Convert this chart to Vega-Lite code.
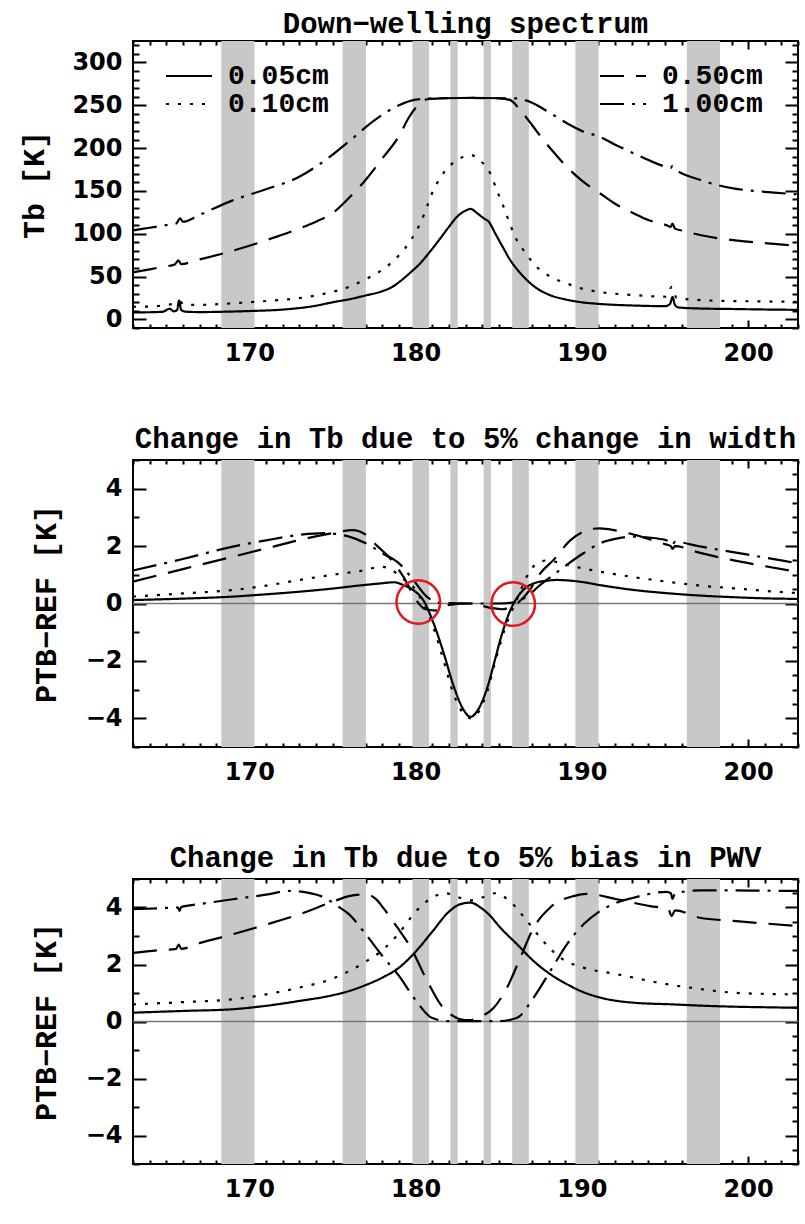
{
  "$schema": "https://vega.github.io/schema/vega-lite/v6.json",
  "background": "white",
  "padding": {"left": 18, "top": 9, "right": 5, "bottom": 5},
  "config": {
    "view": {"stroke": "black", "strokeWidth": 2},
    "axis": {"domain": false, "grid": false, "tickColor": "black", "tickWidth": 2, "labelFont": "DejaVu Sans", "labelFontWeight": "bold", "labelFontSize": 24, "labelColor": "black", "labelOverlap": false, "labelFlush": false, "titleFont": "Liberation Mono", "titleFontWeight": "bold", "titleFontSize": 30, "titleColor": "black"},
    "title": {"font": "Liberation Mono", "fontSize": 29, "fontWeight": "bold", "color": "black", "offset": -6, "anchor": "middle"}
  },
  "datasets": {
    "bands": [
      {"f1": 168.31, "f2": 170.31}, {"f1": 175.61, "f2": 177.01}, {"f1": 179.81, "f2": 180.81}, {"f1": 182.09, "f2": 182.53},
      {"f1": 184.09, "f2": 184.53}, {"f1": 185.81, "f2": 186.81}, {"f1": 189.61, "f2": 191.01}, {"f1": 196.31, "f2": 198.31}
    ],
    "circles": [{"f": 180.16, "v": 0.05}, {"f": 185.87, "v": -0.02}],
    "curves": [
      {"p":"spec","s":"0.05cm","f":163,"v":8.3},{"p":"spec","s":"0.05cm","f":164,"v":8.4},{"p":"spec","s":"0.05cm","f":164.8,"v":9},{"p":"spec","s":"0.05cm","f":165.2,"v":12.5},{"p":"spec","s":"0.05cm","f":165.45,"v":9.5},{"p":"spec","s":"0.05cm","f":165.65,"v":11},{"p":"spec","s":"0.05cm","f":165.77,"v":22},{"p":"spec","s":"0.05cm","f":165.9,"v":11},{"p":"spec","s":"0.05cm","f":166.2,"v":9},{"p":"spec","s":"0.05cm","f":167,"v":8.6},{"p":"spec","s":"0.05cm","f":168.5,"v":9},{"p":"spec","s":"0.05cm","f":170,"v":9.8},{"p":"spec","s":"0.05cm","f":172,"v":11.5},{"p":"spec","s":"0.05cm","f":174,"v":16},{"p":"spec","s":"0.05cm","f":175,"v":20},{"p":"spec","s":"0.05cm","f":176,"v":23.5},{"p":"spec","s":"0.05cm","f":177,"v":28},{"p":"spec","s":"0.05cm","f":178,"v":33},{"p":"spec","s":"0.05cm","f":178.6,"v":38},{"p":"spec","s":"0.05cm","f":179.1,"v":45},{"p":"spec","s":"0.05cm","f":179.7,"v":55},{"p":"spec","s":"0.05cm","f":180.3,"v":66},{"p":"spec","s":"0.05cm","f":180.9,"v":80},{"p":"spec","s":"0.05cm","f":181.5,"v":95},{"p":"spec","s":"0.05cm","f":182,"v":108},{"p":"spec","s":"0.05cm","f":182.5,"v":120},{"p":"spec","s":"0.05cm","f":183,"v":127},{"p":"spec","s":"0.05cm","f":183.3,"v":129},{"p":"spec","s":"0.05cm","f":183.7,"v":124},{"p":"spec","s":"0.05cm","f":184.1,"v":118},{"p":"spec","s":"0.05cm","f":184.4,"v":114},{"p":"spec","s":"0.05cm","f":184.8,"v":100},{"p":"spec","s":"0.05cm","f":185.2,"v":86},{"p":"spec","s":"0.05cm","f":185.7,"v":69},{"p":"spec","s":"0.05cm","f":186.3,"v":54},{"p":"spec","s":"0.05cm","f":187.1,"v":39},{"p":"spec","s":"0.05cm","f":188,"v":29},{"p":"spec","s":"0.05cm","f":189.1,"v":23},{"p":"spec","s":"0.05cm","f":190,"v":20},{"p":"spec","s":"0.05cm","f":191.1,"v":18},{"p":"spec","s":"0.05cm","f":193,"v":16.3},{"p":"spec","s":"0.05cm","f":195,"v":15.5},{"p":"spec","s":"0.05cm","f":195.3,"v":18},{"p":"spec","s":"0.05cm","f":195.45,"v":26},{"p":"spec","s":"0.05cm","f":195.6,"v":17},{"p":"spec","s":"0.05cm","f":195.8,"v":14},{"p":"spec","s":"0.05cm","f":197,"v":12.8},{"p":"spec","s":"0.05cm","f":199,"v":12.2},{"p":"spec","s":"0.05cm","f":201,"v":11.6},{"p":"spec","s":"0.05cm","f":203,"v":11.2},
      {"p":"spec","s":"0.10cm","f":163,"v":14.8},{"p":"spec","s":"0.10cm","f":164,"v":15},{"p":"spec","s":"0.10cm","f":165,"v":17},{"p":"spec","s":"0.10cm","f":165.5,"v":18.5},{"p":"spec","s":"0.10cm","f":165.8,"v":21},{"p":"spec","s":"0.10cm","f":166.1,"v":17},{"p":"spec","s":"0.10cm","f":167,"v":17},{"p":"spec","s":"0.10cm","f":169,"v":18.8},{"p":"spec","s":"0.10cm","f":171,"v":21.5},{"p":"spec","s":"0.10cm","f":172.9,"v":24.6},{"p":"spec","s":"0.10cm","f":174.5,"v":30},{"p":"spec","s":"0.10cm","f":176,"v":38},{"p":"spec","s":"0.10cm","f":177,"v":47},{"p":"spec","s":"0.10cm","f":178,"v":58},{"p":"spec","s":"0.10cm","f":179,"v":75},{"p":"spec","s":"0.10cm","f":179.7,"v":92},{"p":"spec","s":"0.10cm","f":180.3,"v":113},{"p":"spec","s":"0.10cm","f":181.1,"v":152},{"p":"spec","s":"0.10cm","f":181.8,"v":174},{"p":"spec","s":"0.10cm","f":182.5,"v":186},{"p":"spec","s":"0.10cm","f":183.3,"v":192},{"p":"spec","s":"0.10cm","f":183.9,"v":185},{"p":"spec","s":"0.10cm","f":184.5,"v":170},{"p":"spec","s":"0.10cm","f":184.9,"v":150},{"p":"spec","s":"0.10cm","f":185.3,"v":131},{"p":"spec","s":"0.10cm","f":185.7,"v":110},{"p":"spec","s":"0.10cm","f":186.1,"v":92},{"p":"spec","s":"0.10cm","f":186.6,"v":78},{"p":"spec","s":"0.10cm","f":187.1,"v":65},{"p":"spec","s":"0.10cm","f":188.1,"v":50},{"p":"spec","s":"0.10cm","f":189.1,"v":42},{"p":"spec","s":"0.10cm","f":190,"v":36},{"p":"spec","s":"0.10cm","f":191.1,"v":32},{"p":"spec","s":"0.10cm","f":193.1,"v":28.5},{"p":"spec","s":"0.10cm","f":195.1,"v":26.5},{"p":"spec","s":"0.10cm","f":195.4,"v":38},{"p":"spec","s":"0.10cm","f":195.7,"v":25},{"p":"spec","s":"0.10cm","f":197.1,"v":22.6},{"p":"spec","s":"0.10cm","f":199,"v":21.5},{"p":"spec","s":"0.10cm","f":201,"v":21},{"p":"spec","s":"0.10cm","f":203,"v":20.5},
      {"p":"spec","s":"0.50cm","f":163,"v":55},{"p":"spec","s":"0.50cm","f":164,"v":58.5},{"p":"spec","s":"0.50cm","f":164.8,"v":61.5},{"p":"spec","s":"0.50cm","f":165.5,"v":64},{"p":"spec","s":"0.50cm","f":165.73,"v":69},{"p":"spec","s":"0.50cm","f":165.9,"v":64.5},{"p":"spec","s":"0.50cm","f":166.8,"v":69},{"p":"spec","s":"0.50cm","f":168.4,"v":77},{"p":"spec","s":"0.50cm","f":170,"v":86},{"p":"spec","s":"0.50cm","f":171.4,"v":95},{"p":"spec","s":"0.50cm","f":173,"v":106},{"p":"spec","s":"0.50cm","f":174,"v":114},{"p":"spec","s":"0.50cm","f":175,"v":124},{"p":"spec","s":"0.50cm","f":176,"v":142},{"p":"spec","s":"0.50cm","f":177,"v":163},{"p":"spec","s":"0.50cm","f":178,"v":188},{"p":"spec","s":"0.50cm","f":179,"v":214},{"p":"spec","s":"0.50cm","f":179.6,"v":236},{"p":"spec","s":"0.50cm","f":180.2,"v":251},{"p":"spec","s":"0.50cm","f":180.7,"v":257},{"p":"spec","s":"0.50cm","f":181.5,"v":258},{"p":"spec","s":"0.50cm","f":183.3,"v":258.5},{"p":"spec","s":"0.50cm","f":185,"v":258},{"p":"spec","s":"0.50cm","f":185.7,"v":256},{"p":"spec","s":"0.50cm","f":186.3,"v":244},{"p":"spec","s":"0.50cm","f":187,"v":227},{"p":"spec","s":"0.50cm","f":187.7,"v":209},{"p":"spec","s":"0.50cm","f":188.4,"v":193},{"p":"spec","s":"0.50cm","f":189.1,"v":178},{"p":"spec","s":"0.50cm","f":190,"v":162},{"p":"spec","s":"0.50cm","f":191.1,"v":147},{"p":"spec","s":"0.50cm","f":192,"v":135},{"p":"spec","s":"0.50cm","f":193.1,"v":124},{"p":"spec","s":"0.50cm","f":194,"v":116},{"p":"spec","s":"0.50cm","f":195.1,"v":110},{"p":"spec","s":"0.50cm","f":195.35,"v":108},{"p":"spec","s":"0.50cm","f":195.45,"v":112},{"p":"spec","s":"0.50cm","f":195.6,"v":106},{"p":"spec","s":"0.50cm","f":196.2,"v":103},{"p":"spec","s":"0.50cm","f":197.1,"v":98.5},{"p":"spec","s":"0.50cm","f":199.1,"v":92.6},{"p":"spec","s":"0.50cm","f":201,"v":89},{"p":"spec","s":"0.50cm","f":203,"v":86},
      {"p":"spec","s":"1.00cm","f":163,"v":104},{"p":"spec","s":"1.00cm","f":164,"v":107},{"p":"spec","s":"1.00cm","f":165,"v":110},{"p":"spec","s":"1.00cm","f":165.6,"v":112},{"p":"spec","s":"1.00cm","f":165.83,"v":118},{"p":"spec","s":"1.00cm","f":166,"v":114},{"p":"spec","s":"1.00cm","f":167,"v":122},{"p":"spec","s":"1.00cm","f":169,"v":139},{"p":"spec","s":"1.00cm","f":171,"v":152},{"p":"spec","s":"1.00cm","f":173,"v":166.5},{"p":"spec","s":"1.00cm","f":174.5,"v":185},{"p":"spec","s":"1.00cm","f":176,"v":208},{"p":"spec","s":"1.00cm","f":177.5,"v":232},{"p":"spec","s":"1.00cm","f":179,"v":250},{"p":"spec","s":"1.00cm","f":180,"v":256.5},{"p":"spec","s":"1.00cm","f":181,"v":258},{"p":"spec","s":"1.00cm","f":183.3,"v":258.5},{"p":"spec","s":"1.00cm","f":186,"v":258},{"p":"spec","s":"1.00cm","f":187,"v":253},{"p":"spec","s":"1.00cm","f":188,"v":242},{"p":"spec","s":"1.00cm","f":189.1,"v":229},{"p":"spec","s":"1.00cm","f":190,"v":220},{"p":"spec","s":"1.00cm","f":191.1,"v":213},{"p":"spec","s":"1.00cm","f":192,"v":204},{"p":"spec","s":"1.00cm","f":193.1,"v":194},{"p":"spec","s":"1.00cm","f":194,"v":186},{"p":"spec","s":"1.00cm","f":195.1,"v":178},{"p":"spec","s":"1.00cm","f":195.35,"v":177},{"p":"spec","s":"1.00cm","f":195.45,"v":179},{"p":"spec","s":"1.00cm","f":195.6,"v":176},{"p":"spec","s":"1.00cm","f":197.1,"v":163},{"p":"spec","s":"1.00cm","f":199.1,"v":153},{"p":"spec","s":"1.00cm","f":201,"v":149},{"p":"spec","s":"1.00cm","f":203,"v":146},

      {"p":"width","s":"0.05cm","f":163,"v":0.12},{"p":"width","s":"0.05cm","f":166,"v":0.17},{"p":"width","s":"0.05cm","f":169,"v":0.24},{"p":"width","s":"0.05cm","f":171,"v":0.32},{"p":"width","s":"0.05cm","f":173,"v":0.41},{"p":"width","s":"0.05cm","f":175,"v":0.52},{"p":"width","s":"0.05cm","f":176.5,"v":0.62},{"p":"width","s":"0.05cm","f":177.9,"v":0.7},{"p":"width","s":"0.05cm","f":178.7,"v":0.74},{"p":"width","s":"0.05cm","f":179.3,"v":0.63},{"p":"width","s":"0.05cm","f":179.9,"v":0.45},{"p":"width","s":"0.05cm","f":180.5,"v":0.08},{"p":"width","s":"0.05cm","f":181.1,"v":-0.72},{"p":"width","s":"0.05cm","f":181.7,"v":-1.75},{"p":"width","s":"0.05cm","f":182.3,"v":-2.9},{"p":"width","s":"0.05cm","f":182.9,"v":-3.72},{"p":"width","s":"0.05cm","f":183.3,"v":-3.95},{"p":"width","s":"0.05cm","f":183.7,"v":-3.75},{"p":"width","s":"0.05cm","f":184.3,"v":-2.95},{"p":"width","s":"0.05cm","f":184.8,"v":-1.9},{"p":"width","s":"0.05cm","f":185.1,"v":-1.25},{"p":"width","s":"0.05cm","f":185.7,"v":-0.23},{"p":"width","s":"0.05cm","f":186.3,"v":0.36},{"p":"width","s":"0.05cm","f":187.1,"v":0.7},{"p":"width","s":"0.05cm","f":188,"v":0.8},{"p":"width","s":"0.05cm","f":188.5,"v":0.82},{"p":"width","s":"0.05cm","f":190,"v":0.75},{"p":"width","s":"0.05cm","f":191.1,"v":0.64},{"p":"width","s":"0.05cm","f":193,"v":0.48},{"p":"width","s":"0.05cm","f":195.1,"v":0.36},{"p":"width","s":"0.05cm","f":197,"v":0.28},{"p":"width","s":"0.05cm","f":199.1,"v":0.22},{"p":"width","s":"0.05cm","f":201,"v":0.18},{"p":"width","s":"0.05cm","f":203,"v":0.16},
      {"p":"width","s":"0.10cm","f":163,"v":0.24},{"p":"width","s":"0.10cm","f":166,"v":0.35},{"p":"width","s":"0.10cm","f":169,"v":0.47},{"p":"width","s":"0.10cm","f":171,"v":0.62},{"p":"width","s":"0.10cm","f":173,"v":0.82},{"p":"width","s":"0.10cm","f":175,"v":1.0},{"p":"width","s":"0.10cm","f":177,"v":1.17},{"p":"width","s":"0.10cm","f":177.9,"v":1.28},{"p":"width","s":"0.10cm","f":178.5,"v":1.2},{"p":"width","s":"0.10cm","f":179.06,"v":0.93},{"p":"width","s":"0.10cm","f":179.86,"v":0.58},{"p":"width","s":"0.10cm","f":180.46,"v":0.0},{"p":"width","s":"0.10cm","f":181.06,"v":-0.81},{"p":"width","s":"0.10cm","f":181.67,"v":-1.97},{"p":"width","s":"0.10cm","f":182.27,"v":-3.13},{"p":"width","s":"0.10cm","f":182.87,"v":-3.83},{"p":"width","s":"0.10cm","f":183.3,"v":-4.0},{"p":"width","s":"0.10cm","f":183.7,"v":-3.85},{"p":"width","s":"0.10cm","f":184.27,"v":-3.13},{"p":"width","s":"0.10cm","f":184.87,"v":-1.85},{"p":"width","s":"0.10cm","f":185.48,"v":-0.69},{"p":"width","s":"0.10cm","f":186.08,"v":0.12},{"p":"width","s":"0.10cm","f":186.68,"v":0.93},{"p":"width","s":"0.10cm","f":187.3,"v":1.4},{"p":"width","s":"0.10cm","f":187.9,"v":1.5},{"p":"width","s":"0.10cm","f":189.1,"v":1.34},{"p":"width","s":"0.10cm","f":191.1,"v":1.11},{"p":"width","s":"0.10cm","f":193,"v":0.93},{"p":"width","s":"0.10cm","f":195.1,"v":0.76},{"p":"width","s":"0.10cm","f":197,"v":0.63},{"p":"width","s":"0.10cm","f":199.1,"v":0.53},{"p":"width","s":"0.10cm","f":201,"v":0.44},{"p":"width","s":"0.10cm","f":203,"v":0.36},
      {"p":"width","s":"0.50cm","f":163,"v":0.76},{"p":"width","s":"0.50cm","f":166,"v":1.2},{"p":"width","s":"0.50cm","f":169,"v":1.63},{"p":"width","s":"0.50cm","f":171,"v":1.92},{"p":"width","s":"0.50cm","f":173,"v":2.21},{"p":"width","s":"0.50cm","f":175,"v":2.45},{"p":"width","s":"0.50cm","f":176.2,"v":2.56},{"p":"width","s":"0.50cm","f":177,"v":2.4},{"p":"width","s":"0.50cm","f":177.7,"v":2.0},{"p":"width","s":"0.50cm","f":178.5,"v":1.55},{"p":"width","s":"0.50cm","f":179.3,"v":0.9},{"p":"width","s":"0.50cm","f":180,"v":0.15},{"p":"width","s":"0.50cm","f":180.6,"v":-0.2},{"p":"width","s":"0.50cm","f":181.3,"v":-0.25},{"p":"width","s":"0.50cm","f":182,"v":-0.05},{"p":"width","s":"0.50cm","f":183.3,"v":0},{"p":"width","s":"0.50cm","f":184.5,"v":-0.15},{"p":"width","s":"0.50cm","f":185.2,"v":-0.2},{"p":"width","s":"0.50cm","f":185.7,"v":-0.12},{"p":"width","s":"0.50cm","f":186.2,"v":0.05},{"p":"width","s":"0.50cm","f":186.9,"v":0.5},{"p":"width","s":"0.50cm","f":187.5,"v":1.05},{"p":"width","s":"0.50cm","f":188.3,"v":1.52},{"p":"width","s":"0.50cm","f":189.3,"v":2.2},{"p":"width","s":"0.50cm","f":190,"v":2.48},{"p":"width","s":"0.50cm","f":190.6,"v":2.6},{"p":"width","s":"0.50cm","f":191.1,"v":2.62},{"p":"width","s":"0.50cm","f":192,"v":2.55},{"p":"width","s":"0.50cm","f":193,"v":2.42},{"p":"width","s":"0.50cm","f":194,"v":2.25},{"p":"width","s":"0.50cm","f":195.1,"v":2.05},{"p":"width","s":"0.50cm","f":195.35,"v":2.0},{"p":"width","s":"0.50cm","f":195.45,"v":1.9},{"p":"width","s":"0.50cm","f":195.6,"v":2.0},{"p":"width","s":"0.50cm","f":197,"v":1.78},{"p":"width","s":"0.50cm","f":199,"v":1.52},{"p":"width","s":"0.50cm","f":201,"v":1.3},{"p":"width","s":"0.50cm","f":203,"v":1.1},
      {"p":"width","s":"1.00cm","f":163,"v":1.15},{"p":"width","s":"1.00cm","f":166,"v":1.55},{"p":"width","s":"1.00cm","f":169,"v":1.98},{"p":"width","s":"1.00cm","f":171,"v":2.2},{"p":"width","s":"1.00cm","f":173,"v":2.39},{"p":"width","s":"1.00cm","f":174.5,"v":2.45},{"p":"width","s":"1.00cm","f":176,"v":2.33},{"p":"width","s":"1.00cm","f":177,"v":2.1},{"p":"width","s":"1.00cm","f":178,"v":1.75},{"p":"width","s":"1.00cm","f":179,"v":1.4},{"p":"width","s":"1.00cm","f":179.86,"v":0.82},{"p":"width","s":"1.00cm","f":180.67,"v":0.24},{"p":"width","s":"1.00cm","f":181.5,"v":0.02},{"p":"width","s":"1.00cm","f":183.3,"v":0},{"p":"width","s":"1.00cm","f":185,"v":0},{"p":"width","s":"1.00cm","f":186,"v":0.05},{"p":"width","s":"1.00cm","f":186.68,"v":0.24},{"p":"width","s":"1.00cm","f":187.48,"v":0.64},{"p":"width","s":"1.00cm","f":188.68,"v":1.17},{"p":"width","s":"1.00cm","f":190.09,"v":1.75},{"p":"width","s":"1.00cm","f":191.1,"v":2.1},{"p":"width","s":"1.00cm","f":192,"v":2.25},{"p":"width","s":"1.00cm","f":193.1,"v":2.33},{"p":"width","s":"1.00cm","f":194,"v":2.3},{"p":"width","s":"1.00cm","f":195.1,"v":2.2},{"p":"width","s":"1.00cm","f":195.35,"v":2.15},{"p":"width","s":"1.00cm","f":195.45,"v":2.05},{"p":"width","s":"1.00cm","f":195.6,"v":2.15},{"p":"width","s":"1.00cm","f":197,"v":2.0},{"p":"width","s":"1.00cm","f":199,"v":1.8},{"p":"width","s":"1.00cm","f":201,"v":1.6},{"p":"width","s":"1.00cm","f":203,"v":1.4},

      {"p":"pwv","s":"0.05cm","f":163,"v":0.31},{"p":"pwv","s":"0.05cm","f":166,"v":0.37},{"p":"pwv","s":"0.05cm","f":169,"v":0.43},{"p":"pwv","s":"0.05cm","f":171,"v":0.55},{"p":"pwv","s":"0.05cm","f":173,"v":0.72},{"p":"pwv","s":"0.05cm","f":175,"v":0.92},{"p":"pwv","s":"0.05cm","f":176,"v":1.07},{"p":"pwv","s":"0.05cm","f":177,"v":1.28},{"p":"pwv","s":"0.05cm","f":178,"v":1.54},{"p":"pwv","s":"0.05cm","f":179,"v":1.89},{"p":"pwv","s":"0.05cm","f":180,"v":2.45},{"p":"pwv","s":"0.05cm","f":181,"v":3.15},{"p":"pwv","s":"0.05cm","f":182,"v":3.85},{"p":"pwv","s":"0.05cm","f":182.7,"v":4.12},{"p":"pwv","s":"0.05cm","f":183.3,"v":4.17},{"p":"pwv","s":"0.05cm","f":183.9,"v":4.0},{"p":"pwv","s":"0.05cm","f":184.4,"v":3.76},{"p":"pwv","s":"0.05cm","f":185.1,"v":3.29},{"p":"pwv","s":"0.05cm","f":186.1,"v":2.71},{"p":"pwv","s":"0.05cm","f":187.1,"v":2.12},{"p":"pwv","s":"0.05cm","f":188.1,"v":1.66},{"p":"pwv","s":"0.05cm","f":189.1,"v":1.31},{"p":"pwv","s":"0.05cm","f":190,"v":1.05},{"p":"pwv","s":"0.05cm","f":191.1,"v":0.84},{"p":"pwv","s":"0.05cm","f":193.1,"v":0.66},{"p":"pwv","s":"0.05cm","f":195.5,"v":0.6},{"p":"pwv","s":"0.05cm","f":197,"v":0.56},{"p":"pwv","s":"0.05cm","f":199.1,"v":0.52},{"p":"pwv","s":"0.05cm","f":201,"v":0.5},{"p":"pwv","s":"0.05cm","f":203,"v":0.48},
      {"p":"pwv","s":"0.10cm","f":163,"v":0.6},{"p":"pwv","s":"0.10cm","f":166,"v":0.68},{"p":"pwv","s":"0.10cm","f":169,"v":0.78},{"p":"pwv","s":"0.10cm","f":171,"v":0.95},{"p":"pwv","s":"0.10cm","f":173,"v":1.19},{"p":"pwv","s":"0.10cm","f":175,"v":1.5},{"p":"pwv","s":"0.10cm","f":176,"v":1.77},{"p":"pwv","s":"0.10cm","f":177,"v":2.1},{"p":"pwv","s":"0.10cm","f":178,"v":2.5},{"p":"pwv","s":"0.10cm","f":179,"v":3.1},{"p":"pwv","s":"0.10cm","f":180,"v":3.85},{"p":"pwv","s":"0.10cm","f":181,"v":4.35},{"p":"pwv","s":"0.10cm","f":181.8,"v":4.5},{"p":"pwv","s":"0.10cm","f":182.6,"v":4.35},{"p":"pwv","s":"0.10cm","f":183.3,"v":4.25},{"p":"pwv","s":"0.10cm","f":184,"v":4.35},{"p":"pwv","s":"0.10cm","f":184.8,"v":4.5},{"p":"pwv","s":"0.10cm","f":185.6,"v":4.25},{"p":"pwv","s":"0.10cm","f":186.7,"v":3.53},{"p":"pwv","s":"0.10cm","f":187.5,"v":2.94},{"p":"pwv","s":"0.10cm","f":188.7,"v":2.24},{"p":"pwv","s":"0.10cm","f":190.1,"v":1.89},{"p":"pwv","s":"0.10cm","f":192.1,"v":1.66},{"p":"pwv","s":"0.10cm","f":195.1,"v":1.31},{"p":"pwv","s":"0.10cm","f":197,"v":1.15},{"p":"pwv","s":"0.10cm","f":199.1,"v":1.01},{"p":"pwv","s":"0.10cm","f":201,"v":0.97},{"p":"pwv","s":"0.10cm","f":203,"v":0.95},
      {"p":"pwv","s":"0.50cm","f":163,"v":2.41},{"p":"pwv","s":"0.50cm","f":164.5,"v":2.5},{"p":"pwv","s":"0.50cm","f":165.6,"v":2.55},{"p":"pwv","s":"0.50cm","f":165.75,"v":2.7},{"p":"pwv","s":"0.50cm","f":165.9,"v":2.55},{"p":"pwv","s":"0.50cm","f":167,"v":2.75},{"p":"pwv","s":"0.50cm","f":169,"v":3.06},{"p":"pwv","s":"0.50cm","f":171,"v":3.4},{"p":"pwv","s":"0.50cm","f":173,"v":3.76},{"p":"pwv","s":"0.50cm","f":175,"v":4.2},{"p":"pwv","s":"0.50cm","f":176,"v":4.4},{"p":"pwv","s":"0.50cm","f":177,"v":4.46},{"p":"pwv","s":"0.50cm","f":177.6,"v":4.3},{"p":"pwv","s":"0.50cm","f":178.1,"v":3.95},{"p":"pwv","s":"0.50cm","f":178.9,"v":3.3},{"p":"pwv","s":"0.50cm","f":179.7,"v":2.6},{"p":"pwv","s":"0.50cm","f":180.7,"v":1.42},{"p":"pwv","s":"0.50cm","f":181.5,"v":0.6},{"p":"pwv","s":"0.50cm","f":182.1,"v":0.25},{"p":"pwv","s":"0.50cm","f":182.7,"v":0.08},{"p":"pwv","s":"0.50cm","f":183.3,"v":0.05},{"p":"pwv","s":"0.50cm","f":183.7,"v":0.13},{"p":"pwv","s":"0.50cm","f":184.7,"v":0.48},{"p":"pwv","s":"0.50cm","f":185.5,"v":1.19},{"p":"pwv","s":"0.50cm","f":186.3,"v":2.24},{"p":"pwv","s":"0.50cm","f":187.1,"v":3.29},{"p":"pwv","s":"0.50cm","f":188.1,"v":4.0},{"p":"pwv","s":"0.50cm","f":189.5,"v":4.4},{"p":"pwv","s":"0.50cm","f":190.3,"v":4.48},{"p":"pwv","s":"0.50cm","f":192.1,"v":4.29},{"p":"pwv","s":"0.50cm","f":194.1,"v":4.05},{"p":"pwv","s":"0.50cm","f":195.2,"v":3.95},{"p":"pwv","s":"0.50cm","f":195.4,"v":3.7},{"p":"pwv","s":"0.50cm","f":195.6,"v":3.9},{"p":"pwv","s":"0.50cm","f":197.1,"v":3.64},{"p":"pwv","s":"0.50cm","f":199.1,"v":3.53},{"p":"pwv","s":"0.50cm","f":201,"v":3.44},{"p":"pwv","s":"0.50cm","f":203,"v":3.35},
      {"p":"pwv","s":"1.00cm","f":163,"v":3.94},{"p":"pwv","s":"1.00cm","f":164.5,"v":3.97},{"p":"pwv","s":"1.00cm","f":165.7,"v":4.0},{"p":"pwv","s":"1.00cm","f":165.8,"v":3.88},{"p":"pwv","s":"1.00cm","f":165.9,"v":4.02},{"p":"pwv","s":"1.00cm","f":167,"v":4.12},{"p":"pwv","s":"1.00cm","f":169,"v":4.29},{"p":"pwv","s":"1.00cm","f":171,"v":4.45},{"p":"pwv","s":"1.00cm","f":172.4,"v":4.58},{"p":"pwv","s":"1.00cm","f":173.5,"v":4.52},{"p":"pwv","s":"1.00cm","f":174.5,"v":4.35},{"p":"pwv","s":"1.00cm","f":175.3,"v":4.05},{"p":"pwv","s":"1.00cm","f":176,"v":3.76},{"p":"pwv","s":"1.00cm","f":177,"v":3.06},{"p":"pwv","s":"1.00cm","f":178,"v":2.3},{"p":"pwv","s":"1.00cm","f":179,"v":1.6},{"p":"pwv","s":"1.00cm","f":180,"v":0.75},{"p":"pwv","s":"1.00cm","f":181,"v":0.12},{"p":"pwv","s":"1.00cm","f":182,"v":0.01},{"p":"pwv","s":"1.00cm","f":185,"v":0.01},{"p":"pwv","s":"1.00cm","f":186.1,"v":0.13},{"p":"pwv","s":"1.00cm","f":187.1,"v":0.84},{"p":"pwv","s":"1.00cm","f":188.1,"v":1.77},{"p":"pwv","s":"1.00cm","f":189.1,"v":2.71},{"p":"pwv","s":"1.00cm","f":190.1,"v":3.41},{"p":"pwv","s":"1.00cm","f":191.1,"v":3.88},{"p":"pwv","s":"1.00cm","f":192,"v":4.15},{"p":"pwv","s":"1.00cm","f":193.1,"v":4.34},{"p":"pwv","s":"1.00cm","f":194,"v":4.47},{"p":"pwv","s":"1.00cm","f":195.1,"v":4.55},{"p":"pwv","s":"1.00cm","f":195.35,"v":4.5},{"p":"pwv","s":"1.00cm","f":195.45,"v":4.3},{"p":"pwv","s":"1.00cm","f":195.6,"v":4.5},{"p":"pwv","s":"1.00cm","f":197.1,"v":4.6},{"p":"pwv","s":"1.00cm","f":199,"v":4.6},{"p":"pwv","s":"1.00cm","f":201,"v":4.59},{"p":"pwv","s":"1.00cm","f":203,"v":4.58}
    ]
  },
  "bounds": "flush",
  "spacing": 132,
  "resolve": {"scale": {"x": "independent", "y": "independent", "strokeDash": "independent"}, "legend": {"strokeDash": "independent"}},
  "vconcat": [
    {
      "width": 665, "height": 287,
      "title": {"text": "Down−welling spectrum"},
      "resolve": {"axis": {"x": "independent", "y": "independent"}, "scale": {"strokeDash": "independent"}, "legend": {"strokeDash": "independent"}},
      "layer": [
        {
          "data": {"name": "bands"},
          "mark": {"type": "rect", "color": "#c8c8c8"},
          "encoding": {
            "x": {"field": "f1", "type": "quantitative", "scale": {"domain": [163, 203], "nice": false, "zero": false},
              "axis": {"orient": "top", "values": [163,164,165,166,167,168,169,170,171,172,173,174,175,176,177,178,179,180,181,182,183,184,185,186,187,188,189,190,191,192,193,194,195,196,197,198,199,200,201,202,203], "labels": false, "title": null, "tickSize": {"condition": {"test": "datum.value % 10 === 0", "value": -8}, "value": -4}}},
            "x2": {"field": "f2"}
          }
        },
        {
          "data": {"name": "curves"},
          "transform": [{"filter": "datum.p === 'spec' && (datum.s === '0.05cm' || datum.s === '0.10cm')"}],
          "mark": {"type": "line", "color": "black", "strokeWidth": 2.2, "interpolate": "monotone"},
          "encoding": {
            "x": {"field": "f", "type": "quantitative", "scale": {"domain": [163, 203], "nice": false, "zero": false},
              "axis": {"orient": "bottom", "values": [163,164,165,166,167,168,169,170,171,172,173,174,175,176,177,178,179,180,181,182,183,184,185,186,187,188,189,190,191,192,193,194,195,196,197,198,199,200,201,202,203], "labelExpr": "datum.value % 10 === 0 ? datum.label : ''", "title": null, "labelPadding": 21, "tickSize": {"condition": {"test": "datum.value % 10 === 0", "value": -8}, "value": -4}}},
            "y": {"field": "v", "type": "quantitative", "scale": {"domain": [-10, 325], "nice": false, "zero": false},
              "axis": {"orient": "left", "values": [-10,0,10,20,30,40,50,60,70,80,90,100,110,120,130,140,150,160,170,180,190,200,210,220,230,240,250,260,270,280,290,300,310,320], "format": "d", "labelExpr": "datum.value % 50 === 0 ? datum.label : ''", "title": "Tb [K]", "titlePadding": 22, "labelPadding": 24, "tickSize": {"condition": {"test": "datum.value % 50 === 0", "value": -13}, "value": -6}}},
            "strokeDash": {"field": "s", "type": "nominal", "scale": {"domain": ["0.05cm", "0.10cm"], "range": [[1, 0], [3, 9]]},
              "legend": {"orient": "none", "legendX": 42, "legendY": 21, "title": null, "padding": 0, "symbolType": "M-4,0H4", "symbolSize": 132, "symbolStrokeWidth": 2.2, "symbolStrokeColor": "black", "symbolFillColor": "transparent", "labelFont": "Liberation Mono", "labelFontSize": 28, "labelFontWeight": "bold", "labelColor": "black", "labelOffset": 25, "rowPadding": 0}}
          }
        },
        {
          "data": {"name": "curves"},
          "transform": [{"filter": "datum.p === 'spec' && (datum.s === '0.50cm' || datum.s === '1.00cm')"}],
          "mark": {"type": "line", "color": "black", "strokeWidth": 2.2, "interpolate": "monotone"},
          "encoding": {
            "x": {"field": "f", "type": "quantitative", "axis": null},
            "y": {"field": "v", "type": "quantitative",
              "axis": {"orient": "right", "values": [-10,0,10,20,30,40,50,60,70,80,90,100,110,120,130,140,150,160,170,180,190,200,210,220,230,240,250,260,270,280,290,300,310,320], "labels": false, "title": null, "tickSize": {"condition": {"test": "datum.value % 50 === 0", "value": -13}, "value": -6}}},
            "strokeDash": {"field": "s", "type": "nominal", "scale": {"domain": ["0.50cm", "1.00cm"], "range": [[24, 12], [24, 8, 3, 8]]},
              "legend": {"orient": "none", "legendX": 476, "legendY": 21, "title": null, "padding": 0, "symbolType": "M-4,0H4", "symbolSize": 132, "symbolStrokeWidth": 2.2, "symbolStrokeColor": "black", "symbolFillColor": "transparent", "labelFont": "Liberation Mono", "labelFontSize": 28, "labelFontWeight": "bold", "labelColor": "black", "labelOffset": 25, "rowPadding": 0}}
          }
        }
      ]
    },
    {
      "width": 665, "height": 287,
      "title": {"text": "Change in Tb due to 5% change in width"},
      "resolve": {"axis": {"x": "independent", "y": "independent"}},
      "layer": [
        {
          "data": {"name": "bands"},
          "mark": {"type": "rect", "color": "#c8c8c8"},
          "encoding": {
            "x": {"field": "f1", "type": "quantitative", "scale": {"domain": [163, 203], "nice": false, "zero": false},
              "axis": {"orient": "top", "values": [163,164,165,166,167,168,169,170,171,172,173,174,175,176,177,178,179,180,181,182,183,184,185,186,187,188,189,190,191,192,193,194,195,196,197,198,199,200,201,202,203], "labels": false, "title": null, "tickSize": {"condition": {"test": "datum.value % 10 === 0", "value": -8}, "value": -4}}},
            "x2": {"field": "f2"}
          }
        },
        {
          "data": {"values": [{}]},
          "mark": {"type": "rule", "color": "#777777", "strokeWidth": 1.5},
          "encoding": {
            "y": {"datum": 0, "type": "quantitative", "scale": {"domain": [-5, 5], "nice": false, "zero": false},
              "axis": {"orient": "right", "values": [-5,-4.5,-4,-3.5,-3,-2.5,-2,-1.5,-1,-0.5,0,0.5,1,1.5,2,2.5,3,3.5,4,4.5,5], "labels": false, "title": null, "tickSize": {"condition": {"test": "datum.value % 2 === 0", "value": -13}, "value": -6}}}
          }
        },
        {
          "data": {"name": "curves"},
          "transform": [{"filter": "datum.p === 'width'"}],
          "mark": {"type": "line", "color": "black", "strokeWidth": 2.2, "interpolate": "monotone"},
          "encoding": {
            "x": {"field": "f", "type": "quantitative",
              "axis": {"orient": "bottom", "values": [163,164,165,166,167,168,169,170,171,172,173,174,175,176,177,178,179,180,181,182,183,184,185,186,187,188,189,190,191,192,193,194,195,196,197,198,199,200,201,202,203], "labelExpr": "datum.value % 10 === 0 ? datum.label : ''", "title": null, "labelPadding": 21, "tickSize": {"condition": {"test": "datum.value % 10 === 0", "value": -8}, "value": -4}}},
            "y": {"field": "v", "type": "quantitative",
              "axis": {"orient": "left", "values": [-5,-4.5,-4,-3.5,-3,-2.5,-2,-1.5,-1,-0.5,0,0.5,1,1.5,2,2.5,3,3.5,4,4.5,5], "format": "d", "labelExpr": "datum.value % 2 === 0 ? datum.label : ''", "title": "PTB−REF [K]", "titlePadding": 24, "labelPadding": 24, "tickSize": {"condition": {"test": "datum.value % 2 === 0", "value": -13}, "value": -6}}},
            "strokeDash": {"field": "s", "type": "nominal", "scale": {"domain": ["0.05cm", "0.10cm", "0.50cm", "1.00cm"], "range": [[1, 0], [3, 9], [24, 12], [24, 8, 3, 8]]}, "legend": null}
          }
        },
        {
          "data": {"name": "circles"},
          "mark": {"type": "point", "shape": "circle", "filled": false, "stroke": "#e3161e", "strokeWidth": 2.5, "size": 1900, "opacity": 1},
          "encoding": {
            "x": {"field": "f", "type": "quantitative", "axis": null},
            "y": {"field": "v", "type": "quantitative", "axis": null}
          }
        }
      ]
    },
    {
      "width": 665, "height": 285,
      "title": {"text": "Change in Tb due to 5% bias in PWV"},
      "resolve": {"axis": {"x": "independent", "y": "independent"}},
      "layer": [
        {
          "data": {"name": "bands"},
          "mark": {"type": "rect", "color": "#c8c8c8"},
          "encoding": {
            "x": {"field": "f1", "type": "quantitative", "scale": {"domain": [163, 203], "nice": false, "zero": false},
              "axis": {"orient": "top", "values": [163,164,165,166,167,168,169,170,171,172,173,174,175,176,177,178,179,180,181,182,183,184,185,186,187,188,189,190,191,192,193,194,195,196,197,198,199,200,201,202,203], "labels": false, "title": null, "tickSize": {"condition": {"test": "datum.value % 10 === 0", "value": -8}, "value": -4}}},
            "x2": {"field": "f2"}
          }
        },
        {
          "data": {"values": [{}]},
          "mark": {"type": "rule", "color": "#777777", "strokeWidth": 1.5},
          "encoding": {
            "y": {"datum": 0, "type": "quantitative", "scale": {"domain": [-5, 5], "nice": false, "zero": false},
              "axis": {"orient": "right", "values": [-5,-4.5,-4,-3.5,-3,-2.5,-2,-1.5,-1,-0.5,0,0.5,1,1.5,2,2.5,3,3.5,4,4.5,5], "labels": false, "title": null, "tickSize": {"condition": {"test": "datum.value % 2 === 0", "value": -13}, "value": -6}}}
          }
        },
        {
          "data": {"name": "curves"},
          "transform": [{"filter": "datum.p === 'pwv'"}],
          "mark": {"type": "line", "color": "black", "strokeWidth": 2.2, "interpolate": "monotone"},
          "encoding": {
            "x": {"field": "f", "type": "quantitative",
              "axis": {"orient": "bottom", "values": [163,164,165,166,167,168,169,170,171,172,173,174,175,176,177,178,179,180,181,182,183,184,185,186,187,188,189,190,191,192,193,194,195,196,197,198,199,200,201,202,203], "labelExpr": "datum.value % 10 === 0 ? datum.label : ''", "title": null, "labelPadding": 21, "tickSize": {"condition": {"test": "datum.value % 10 === 0", "value": -8}, "value": -4}}},
            "y": {"field": "v", "type": "quantitative",
              "axis": {"orient": "left", "values": [-5,-4.5,-4,-3.5,-3,-2.5,-2,-1.5,-1,-0.5,0,0.5,1,1.5,2,2.5,3,3.5,4,4.5,5], "format": "d", "labelExpr": "datum.value % 2 === 0 ? datum.label : ''", "title": "PTB−REF [K]", "titlePadding": 24, "labelPadding": 24, "tickSize": {"condition": {"test": "datum.value % 2 === 0", "value": -13}, "value": -6}}},
            "strokeDash": {"field": "s", "type": "nominal", "scale": {"domain": ["0.05cm", "0.10cm", "0.50cm", "1.00cm"], "range": [[1, 0], [3, 9], [24, 12], [24, 8, 3, 8]]}, "legend": null}
          }
        }
      ]
    }
  ]
}
